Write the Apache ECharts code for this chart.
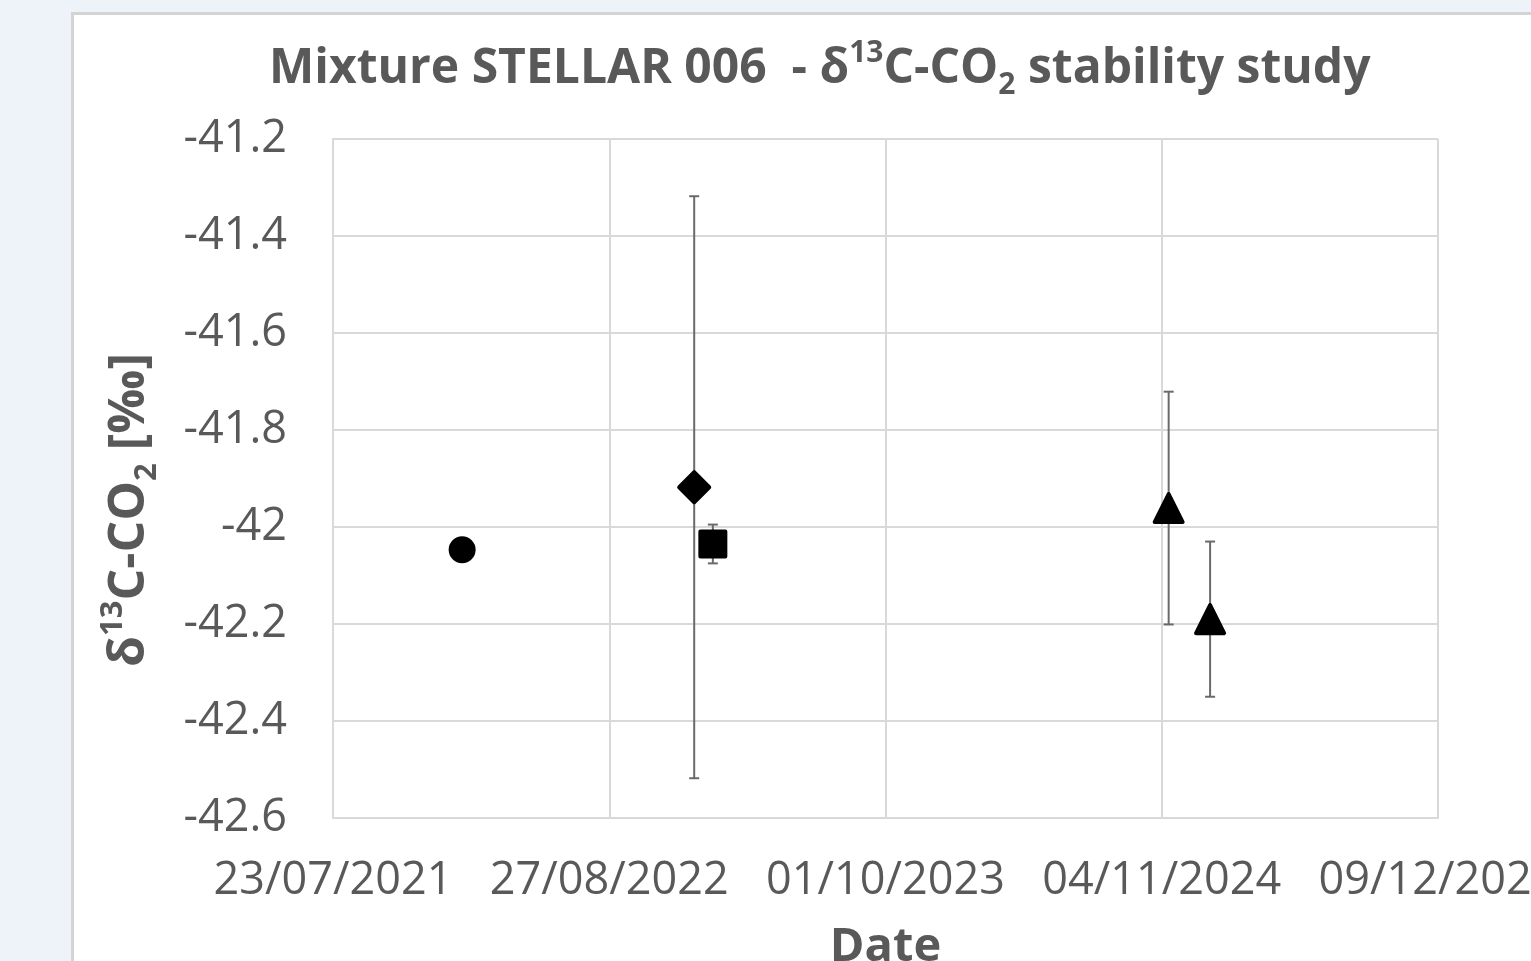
<!DOCTYPE html>
<html>
<head>
<meta charset="utf-8">
<script src="https://cdn.jsdelivr.net/npm/echarts@6/dist/echarts.min.js"></script>
<style>
  html, body { margin: 0; padding: 0; background: #eef3fa; overflow: hidden; }
  #card {
    position: absolute; left: 71px; top: 12px;
    width: 1460px; height: 949px;
    background: #fff; border-left: 3px solid #d4d4d4; border-top: 3px solid #d4d4d4;
    box-sizing: border-box;
  }
  #chart { width: 100%; height: 100%; }
</style>
</head>
<body>
<div id="card"><div id="chart"></div></div>
<script>
// measurement dates (dd/mm/yyyy in the chart, ISO here)
const dates = ['2022-01-26', '2022-12-28', '2023-01-24', '2024-11-14', '2025-01-13']
const values = [-42.047, -41.918, -42.035, -41.961, -42.19]
const errors = [0, 0.6, 0.04, 0.24, 0.16]
const symbols = ['circle', 'diamond', 'rect', 'triangle', 'triangle']
const symbolSizes = [23, 30, 25, 28, 28]
const yTicks = [-42.6, -42.4, -42.2, -42, -41.8, -41.6, -41.4, -41.2]

// excel style serial day numbers, 23/07/2021 = 44400
const toSerial = s => {
  const p = s.split('-').map(Number)
  return Date.UTC(p[0], p[1] - 1, p[2]) / 86400000 + 25569
}
const fromSerial = n => {
  const d = new Date((n - 25569) * 86400000)
  const pad = v => String(v).padStart(2, '0')
  return pad(d.getUTCDate()) + '/' + pad(d.getUTCMonth() + 1) + '/' + d.getUTCFullYear()
}

const xs = dates.map(toSerial)
const font = '"Open Sans", "Noto Sans", sans-serif'
const grey = '#595959'

let myChart = echarts.init(document.getElementById('chart'))

const pointSeries = values.map((v, i) => ({
  type: 'scatter',
  symbol: symbols[i],
  symbolSize: symbolSizes[i],
  itemStyle: { color: '#000', opacity: 1, borderColor: '#000', borderWidth: 4, borderJoin: 'round' },
  z: 5,
  data: [[xs[i], v]]
}))

// rich text pieces for δ13C-CO2 style labels (color for components, fill for graphic)
const richName = (big, small) => ({
  t: { fontSize: big, fontWeight: 'bold', color: grey, fill: grey, fontFamily: font, lineHeight: big * 1.3 },
  sup: { fontSize: small, fontWeight: 'bold', color: grey, fill: grey, fontFamily: font, verticalAlign: 'top', lineHeight: small * 1.3 },
  sub: { fontSize: small, fontWeight: 'bold', color: grey, fill: grey, fontFamily: font, verticalAlign: 'bottom', lineHeight: small * 0.5 }
})

const option = {
  animation: false,
  textStyle: { fontFamily: font },
  title: {
    text: '{t|Mixture STELLAR 006  - δ}{sup|13}{t|C-CO}{sub|2}{t| stability study}',
    left: 190,
    top: 18,
    textStyle: { rich: richName(48, 30) }
  },
  graphic: [{
    type: 'text',
    x: 130 - 74,
    y: 510 - 15,
    rotation: Math.PI / 2,
    style: {
      text: '{t|δ}{sup|13}{t|C-CO}{sub|2}{t| [‰]}',
      align: 'center',
      verticalAlign: 'middle',
      fill: grey,
      rich: richName(50, 31)
    }
  }],
  grid: { left: 259, top: 124, width: 1105, height: 679, containLabel: false, outerBoundsMode: 'none' },
  xAxis: {
    type: 'value',
    min: 44400, max: 46000, interval: 400,
    name: 'Date',
    nameLocation: 'middle',
    nameGap: 106,
    nameTextStyle: { fontSize: 47, fontWeight: 'bold', color: grey },
    axisLine: { show: true, lineStyle: { color: '#d9d9d9', width: 2 } },
    axisTick: { show: false },
    splitLine: { show: true, lineStyle: { color: '#d9d9d9', width: 2 } },
    axisLabel: { fontSize: 45, color: grey, margin: 41, formatter: fromSerial, showMaxLabel: true, showMinLabel: true, hideOverlap: false }
  },
  yAxis: {
    type: 'value',
    min: -42.6, max: -41.2, interval: 0.2,
    axisLine: { show: true, lineStyle: { color: '#d9d9d9', width: 2 } },
    axisTick: { show: false },
    splitLine: { show: true, lineStyle: { color: '#d9d9d9', width: 2 } },
    axisLabel: {
      fontSize: 45, color: grey, margin: 46,
      formatter: v => String(yTicks.find(t => Math.abs(t - v) < 1e-6) ?? v)
    }
  },
  series: [
    {
      type: 'custom',
      z: 2,
      data: xs.map((x, i) => [x, values[i], errors[i]]),
      renderItem: (params, api) => {
        const x = api.value(0), y = api.value(1), e = api.value(2)
        if (!e) return
        const top = api.coord([x, y + e])
        const bot = api.coord([x, y - e])
        const cap = 5
        const style = { stroke: '#6a6a6a', lineWidth: 2, fill: null }
        return {
          type: 'group',
          children: [
            { type: 'line', shape: { x1: top[0], y1: top[1], x2: bot[0], y2: bot[1] }, style },
            { type: 'line', shape: { x1: top[0] - cap, y1: top[1], x2: top[0] + cap, y2: top[1] }, style },
            { type: 'line', shape: { x1: bot[0] - cap, y1: bot[1], x2: bot[0] + cap, y2: bot[1] }, style }
          ]
        }
      }
    },
    ...pointSeries
  ]
}
myChart.setOption(option)
</script>
</body>
</html>
